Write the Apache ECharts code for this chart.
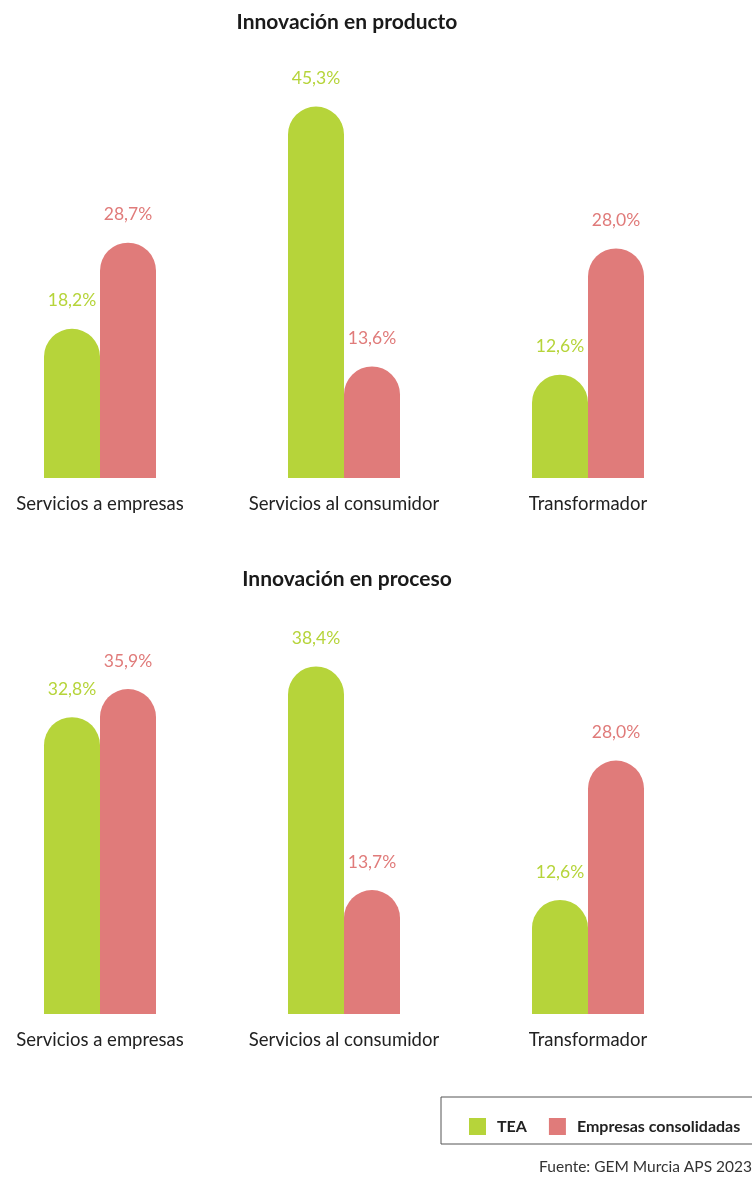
<!DOCTYPE html>
<html>
<head>
<meta charset="utf-8">
<script src="https://cdn.jsdelivr.net/npm/echarts@6/dist/echarts.min.js"></script>
<style>
html,body{margin:0;padding:0;background:#fff;}
#chart{width:752px;height:1177px;}
</style>
</head>
<body>
<div id="chart"></div>
<script>
const categories = ['Servicios a empresas', 'Servicios al consumidor', 'Transformador'];
const seriesNames = ['TEA', 'Empresas consolidadas'];
const productoTEA = [18.2, 45.3, 12.6];
const productoConsolidadas = [28.7, 13.6, 28.0];
const procesoTEA = [32.8, 38.4, 12.6];
const procesoConsolidadas = [35.9, 13.7, 28.0];
const titles = ['Innovación en producto', 'Innovación en proceso'];
const sourceText = 'Fuente: GEM Murcia APS 2023';

const GREEN = '#b6d43a';
const RED = '#e07b7a';
const FONT = 'Lato';
const fmt = p => p.value.toFixed(1).replace('.', ',') + '%';

function barSeries(name, data, color, idx) {
  return {
    name: name,
    type: 'bar',
    xAxisIndex: idx,
    yAxisIndex: idx,
    data: data,
    barWidth: 56,
    barGap: '0%',
    clip: false,
    itemStyle: { color: color, borderRadius: [28, 28, 0, 0] },
    label: {
      show: true,
      position: 'top',
      distance: 19,
      formatter: fmt,
      color: color,
      fontFamily: FONT,
      fontSize: 17.5
    },
    emphasis: { disabled: true }
  };
}

const chart = echarts.init(document.getElementById('chart'), null, { renderer: 'canvas' });
const xAxisBase = {
  type: 'category',
  data: categories,
  boundaryGap: false,
  axisLine: { show: false },
  axisTick: { show: false },
  axisLabel: { interval: 0, hideOverlap: false, color: '#222', fontFamily: FONT, fontSize: 18.5, margin: 17 }
};
const yAxisBase = {
  type: 'value',
  min: 0,
  show: false,
  splitLine: { show: false }
};

chart.setOption({
  animation: false,
  title: [
    { text: titles[0], left: 342, top: 7, textAlign: 'center',
      textStyle: { fontFamily: FONT, fontSize: 21, fontWeight: 'bold', color: '#1a1a1a' } },
    { text: titles[1], left: 342, top: 564, textAlign: 'center',
      textStyle: { fontFamily: FONT, fontSize: 21, fontWeight: 'bold', color: '#1a1a1a' } }
  ],
  legend: {
    data: seriesNames,
    left: 464,
    top: 1113,
    itemWidth: 17,
    itemHeight: 17,
    itemGap: 22,
    icon: 'rect',
    selectedMode: false,
    textStyle: { fontFamily: FONT, fontSize: 16, fontWeight: 'bold', color: '#222', padding: [0, 0, 0, 6] }
  },
  grid: [
    { left: 100, right: 164, top: 68, height: 410 },
    { left: 100, right: 164, top: 652, height: 362 }
  ],
  xAxis: [
    Object.assign({ gridIndex: 0 }, xAxisBase),
    Object.assign({ gridIndex: 1 }, xAxisBase)
  ],
  yAxis: [
    Object.assign({ gridIndex: 0, max: 50 }, yAxisBase),
    Object.assign({ gridIndex: 1, max: 40 }, yAxisBase)
  ],
  series: [
    barSeries(seriesNames[0], productoTEA, GREEN, 0),
    barSeries(seriesNames[1], productoConsolidadas, RED, 0),
    barSeries(seriesNames[0], procesoTEA, GREEN, 1),
    barSeries(seriesNames[1], procesoConsolidadas, RED, 1)
  ],
  graphic: [
    { type: 'rect', shape: { x: 441, y: 1097, width: 330, height: 47 },
      style: { fill: 'none', stroke: '#555', lineWidth: 1 }, silent: true },
    { type: 'text', right: 0, top: 1159,
      style: { text: sourceText, font: '15.5px Lato', fill: '#333' } }
  ]
});
</script>
</body>
</html>
